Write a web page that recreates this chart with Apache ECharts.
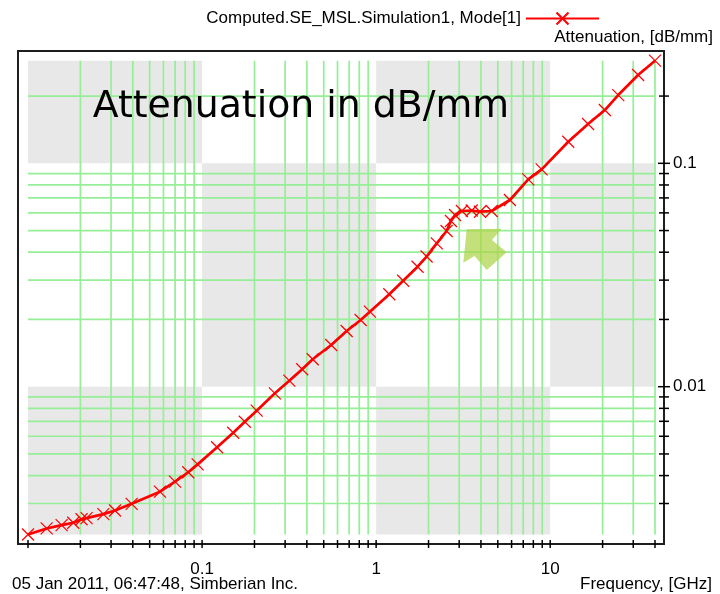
<!DOCTYPE html>
<html>
<head>
<meta charset="utf-8">
<title>Attenuation in dB/mm</title>
<script src="https://cdn.jsdelivr.net/npm/echarts@6/dist/echarts.min.js"></script>
<style>
  html, body { margin: 0; padding: 0; background: #ffffff; }
  #chart { width: 720px; height: 594px; }
</style>
</head>
<body>
<div id="chart"></div>
<script>
// Simulated microstrip line: attenuation versus frequency (log-log)
const seriesName = 'Computed.SE_MSL.Simulation1, Mode[1]';

// Frequency, GHz
const frequency = [
  0.01, 0.0128, 0.0156, 0.0182, 0.0203, 0.0217, 0.0271, 0.0316, 0.0394, 0.0573,
  0.0699, 0.0833, 0.0943, 0.122, 0.151, 0.176, 0.206, 0.262, 0.317, 0.376,
  0.432, 0.552, 0.677, 0.815, 0.921, 1.19, 1.43, 1.73, 1.95, 2.23,
  2.54, 2.69, 2.84, 3.11, 3.54, 3.95, 4.61, 5.87, 7.48, 8.93,
  12.7, 16.5, 20.6, 24.6, 32.0, 40
];

// Attenuation, dB/mm
const attenuation = [
  0.00218, 0.00232, 0.00240, 0.00246, 0.00255, 0.00258, 0.00269, 0.00279, 0.00299, 0.00339,
  0.00376, 0.00414, 0.00449, 0.00536, 0.00622, 0.00697, 0.00781, 0.00934, 0.01064, 0.01197,
  0.01327, 0.01537, 0.01776, 0.01989, 0.02167, 0.02593, 0.02982, 0.03445, 0.03826, 0.04384,
  0.04977, 0.05517, 0.05869, 0.06116, 0.06147, 0.06072, 0.06116, 0.06851, 0.0848, 0.0940,
  0.1249, 0.1499, 0.1732, 0.2021, 0.2485, 0.2880
];

// Tick marks, grid lines and labels
const xTickValues = [
  0.01, 0.02, 0.03, 0.04, 0.05, 0.06, 0.07, 0.08, 0.09,
  0.1, 0.2, 0.3, 0.4, 0.5, 0.6, 0.7, 0.8, 0.9,
  1, 2, 3, 4, 5, 6, 7, 8, 9,
  10, 20, 30, 40
];
const xGridValues = [
  0.02, 0.03, 0.04, 0.05, 0.06, 0.07, 0.08, 0.09,
  0.2, 0.3, 0.4, 0.5, 0.6, 0.7, 0.8, 0.9,
  2, 3, 4, 5, 6, 7, 8, 9,
  20, 30, 40
];
const yTickValues = [
  0.003, 0.004, 0.005, 0.006, 0.007, 0.008, 0.009,
  0.01, 0.02, 0.03, 0.04, 0.05, 0.06, 0.07, 0.08, 0.09,
  0.1, 0.2
];
const yGridValues = [
  0.003, 0.004, 0.005, 0.006, 0.007, 0.008, 0.009,
  0.02, 0.03, 0.04, 0.05, 0.06, 0.07, 0.08, 0.09,
  0.2
];
const xMajorValues = [0.01, 0.1, 1, 10];
const yMajorValues = [0.01, 0.1];
const xLabelValues = [0.1, 1, 10];
const yLabelValues = [0.01, 0.1];

const smallFont = '"Liberation Sans", Arial, sans-serif';
const smallSize = 17;

// Data extent: the shaded checkerboard and the grid cover exactly this range
const fMin = Math.min(...frequency);
const fMax = Math.max(...frequency);
const aMin = Math.min(...attenuation);
const aMax = Math.max(...attenuation);

const xEdges = [fMin, ...xMajorValues.filter(v => v > fMin && v < fMax), fMax];
const yEdges = [aMin, ...yMajorValues.filter(v => v > aMin && v < aMax), aMax];
const cells = [];
for (let i = 0; i < xEdges.length - 1; i++) {
  for (let j = 0; j < yEdges.length - 1; j++) {
    if ((i + j) % 2 === 0) {
      cells.push([xEdges[i], yEdges[j], xEdges[i + 1], yEdges[j + 1]]);
    }
  }
}

const fmt = v => String(Number(Number(v).toPrecision(4)));

const chart = echarts.init(document.getElementById('chart'), null, { renderer: 'canvas' });

chart.setOption({
  animation: false,
  backgroundColor: '#ffffff',
  grid: {
    left: 18, top: 51, width: 646, height: 493,
    show: true,
    backgroundColor: '#ffffff',
    borderColor: '#1e1e1e',
    borderWidth: 2,
    containLabel: false,
    outerBoundsMode: 'none'
  },
  legend: {
    data: [seriesName],
    right: 120,
    top: 10,
    padding: 0,
    align: 'right',
    itemWidth: 73,
    itemHeight: 15,
    selectedMode: false,
    textStyle: { color: '#000', fontFamily: smallFont, fontSize: smallSize }
  },
  xAxis: {
    type: 'log',
    logBase: 10,
    min: 0.0087605,
    max: 45.06,
    axisLine: { show: false },
    axisTick: { show: false },
    splitLine: { show: false },
    axisLabel: {
      customValues: xLabelValues,
      formatter: fmt,
      margin: 17,
      color: '#000',
      fontFamily: smallFont,
      fontSize: smallSize
    }
  },
  yAxis: {
    type: 'log',
    logBase: 10,
    position: 'right',
    min: 0.0019763,
    max: 0.31826,
    axisLine: { show: false },
    axisTick: { show: false },
    splitLine: { show: false },
    axisLabel: {
      customValues: yLabelValues,
      formatter: fmt,
      margin: 9,
      color: '#000',
      fontFamily: smallFont,
      fontSize: smallSize
    }
  },
  series: [
    {
      // grey checkerboard, one cell per decade x decade
      type: 'custom',
      silent: true,
      z: 0,
      data: cells,
      encode: { x: [0, 2], y: [1, 3] },
      renderItem(params, api) {
        const p0 = api.coord([api.value(0), api.value(3)]);
        const p1 = api.coord([api.value(2), api.value(1)]);
        return {
          type: 'rect',
          shape: { x: p0[0], y: p0[1], width: p1[0] - p0[0], height: p1[1] - p0[1] },
          style: { fill: '#e8e8e8' }
        };
      }
    },
    {
      // vertical grid lines
      type: 'custom',
      silent: true,
      z: 1,
      data: xGridValues.map(v => [v, aMin]),
      renderItem(params, api) {
        const x = api.coord([api.value(0), aMin])[0];
        const yTop = api.coord([fMin, aMax])[1];
        const yBot = api.coord([fMin, aMin])[1];
        return {
          type: 'line',
          shape: { x1: x, y1: yTop, x2: x, y2: yBot },
          style: { stroke: '#96ef96', lineWidth: 1.7 }
        };
      }
    },
    {
      // horizontal grid lines
      type: 'custom',
      silent: true,
      z: 1,
      data: yGridValues.map(v => [fMin, v]),
      renderItem(params, api) {
        const y = api.coord([fMin, api.value(1)])[1];
        const xL = api.coord([fMin, aMin])[0];
        const xR = api.coord([fMax, aMin])[0];
        return {
          type: 'line',
          shape: { x1: xL, y1: y, x2: xR, y2: y },
          style: { stroke: '#96ef96', lineWidth: 1.7 }
        };
      }
    },
    {
      // frequency ticks across the bottom frame line
      type: 'custom',
      silent: true,
      clip: false,
      z: 4,
      data: xTickValues.map(v => [v, aMin]),
      renderItem(params, api) {
        const x = api.coord([api.value(0), aMin])[0];
        const yb = params.coordSys.y + params.coordSys.height;
        return {
          type: 'line',
          shape: { x1: x, y1: yb - 4, x2: x, y2: yb + 4 },
          style: { stroke: '#000', lineWidth: 1.5 }
        };
      }
    },
    {
      // attenuation ticks across the right frame line
      type: 'custom',
      silent: true,
      clip: false,
      z: 4,
      data: yTickValues.map(v => [fMax, v]),
      renderItem(params, api) {
        const v = api.value(1);
        const y = api.coord([fMax, v])[1];
        const xr = params.coordSys.x + params.coordSys.width;
        const len = yMajorValues.indexOf(v) >= 0 ? 6 : 5;
        return {
          type: 'line',
          shape: { x1: xr - len, y1: y, x2: xr + len, y2: y },
          style: { stroke: '#000', lineWidth: 1.5 }
        };
      }
    },
    {
      name: seriesName,
      type: 'line',
      z: 5,
      data: frequency.map((f, i) => [f, attenuation[i]]),
      showSymbol: true,
      symbol: 'path://M0,0L10,10M10,0L0,10',
      symbolSize: 12,
      itemStyle: { color: '#ff0000', borderColor: '#ff0000', borderWidth: 1.2 },
      lineStyle: { color: '#ff0000', width: 2.7 },
      emphasis: { disabled: true }
    }
  ],
  graphic: [
    {
      type: 'text',
      z: 10,
      style: {
        x: 92.7, y: 107, align: 'left', verticalAlign: 'middle',
        text: 'Attenuation in dB/mm',
        font: '37.8px "DejaVu Sans"',
        fill: '#000'
      }
    },
    {
      type: 'polygon',
      z: 10,
      shape: {
        points: [[466.7, 229.3], [501.7, 228.7], [492, 240], [506.7, 252.3], [486.7, 270], [474.5, 256], [463.3, 262.7]]
      },
      style: { fill: 'rgba(172, 212, 72, 0.72)' }
    },
    {
      type: 'text',
      style: {
        x: 713, y: 37, align: 'right', verticalAlign: 'middle',
        text: 'Attenuation, [dB/mm]',
        font: smallSize + 'px ' + smallFont,
        fill: '#000'
      }
    },
    {
      type: 'text',
      style: {
        x: 12, y: 584, align: 'left', verticalAlign: 'middle',
        text: '05 Jan 2011, 06:47:48, Simberian Inc.',
        font: smallSize + 'px ' + smallFont,
        fill: '#000'
      }
    },
    {
      type: 'text',
      style: {
        x: 712, y: 584, align: 'right', verticalAlign: 'middle',
        text: 'Frequency, [GHz]',
        font: smallSize + 'px ' + smallFont,
        fill: '#000'
      }
    }
  ]
});
</script>
</body>
</html>
